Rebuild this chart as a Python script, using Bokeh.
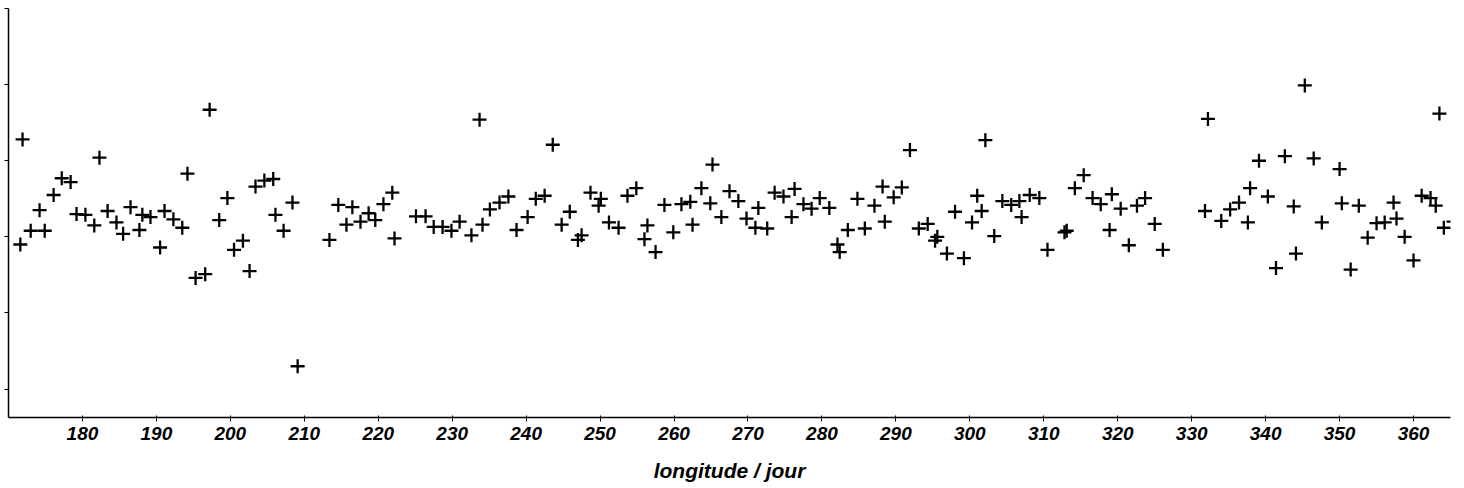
from bokeh.plotting import figure
from bokeh.models import Range1d, FixedTicker
from bokeh.embed import file_html
from bokeh.resources import INLINE

# longitude (day) and value (arbitrary units, y ticks unlabeled)
longitude = [171.6, 171.9, 173.0, 174.2, 174.9, 176.1, 177.2, 178.4, 179.2, 180.4,
             181.6, 182.3, 183.4, 184.6, 185.5, 186.5, 187.7, 188.1, 189.2, 190.5,
             191.1, 192.3, 193.5, 194.2, 195.3, 196.6, 197.2, 198.5, 199.6, 200.5,
             201.7, 202.6, 203.4, 204.6, 205.8, 206.1, 207.2, 208.4, 209.1, 213.4,
             214.6, 215.7, 216.5, 217.6, 218.7, 219.6, 220.7, 221.9, 222.2, 225.1,
             226.4, 227.5, 228.7, 229.9, 231.0, 232.6, 233.7, 234.1, 235.1, 236.4,
             237.6, 238.7, 240.2, 241.3, 242.5, 243.6, 244.8, 245.9, 247.0, 247.5,
             248.7, 249.8, 250.1, 251.2, 252.5, 253.7, 254.9, 256.0, 256.4, 257.5,
             258.7, 259.9, 261.0, 262.2, 262.5, 263.7, 264.9, 265.2, 266.4, 267.5,
             268.7, 269.8, 271.0, 271.4, 272.6, 273.6, 274.8, 275.9, 276.3, 277.5,
             278.6, 279.7, 281.0, 282.1, 282.4, 283.5, 284.8, 285.8, 287.1, 288.2,
             288.5, 289.7, 290.8, 291.9, 293.1, 294.3, 295.3, 295.6, 296.9, 298.0,
             299.2, 300.3, 301.0, 301.6, 302.1, 303.3, 304.4, 305.6, 306.7, 307.0,
             308.1, 309.4, 310.5, 312.8, 313.1, 314.2, 315.4, 316.6, 317.7, 318.9,
             319.2, 320.4, 321.5, 322.6, 323.7, 325.0, 326.1, 331.8, 332.2, 334.0,
             335.2, 336.4, 337.6, 337.9, 339.1, 340.3, 341.4, 342.6, 343.8, 344.1,
             345.3, 346.5, 347.6, 350.0, 350.3, 351.5, 352.6, 353.8, 355.0, 356.1,
             357.3, 357.7, 358.8, 360.0, 361.1, 362.3, 363.0, 363.5, 364.1, 365.4]

value = [1.90, 3.28, 2.08, 2.35, 2.08, 2.55, 2.77, 2.72, 2.30, 2.29,
         2.15, 3.04, 2.34, 2.19, 2.04, 2.39, 2.09, 2.29, 2.26, 1.86,
         2.34, 2.23, 2.12, 2.83, 1.46, 1.51, 3.67, 2.22, 2.51, 1.83,
         1.95, 1.55, 2.66, 2.74, 2.76, 2.29, 2.08, 2.45, 0.30, 1.96,
         2.42, 2.16, 2.39, 2.20, 2.31, 2.22, 2.43, 2.58, 1.98, 2.27,
         2.27, 2.13, 2.13, 2.08, 2.20, 2.02, 3.54, 2.16, 2.36, 2.45,
         2.53, 2.09, 2.26, 2.50, 2.54, 3.21, 2.16, 2.33, 1.96, 2.02,
         2.58, 2.41, 2.50, 2.19, 2.12, 2.54, 2.64, 1.97, 2.15, 1.80,
         2.42, 2.06, 2.43, 2.46, 2.16, 2.64, 2.44, 2.95, 2.26, 2.60,
         2.47, 2.24, 2.12, 2.38, 2.11, 2.58, 2.53, 2.26, 2.63, 2.43,
         2.37, 2.51, 2.38, 1.90, 1.80, 2.09, 2.50, 2.11, 2.41, 2.66,
         2.20, 2.52, 2.65, 3.14, 2.11, 2.17, 1.95, 2.00, 1.78, 2.33,
         1.72, 2.19, 2.54, 2.34, 3.27, 2.01, 2.47, 2.42, 2.47, 2.26,
         2.55, 2.51, 1.83, 2.06, 2.08, 2.64, 2.81, 2.51, 2.43, 2.09,
         2.56, 2.37, 1.89, 2.41, 2.51, 2.17, 1.83, 2.34, 3.55, 2.21,
         2.36, 2.45, 2.19, 2.64, 3.00, 2.53, 1.59, 3.06, 2.40, 1.78,
         3.99, 3.03, 2.19, 2.89, 2.44, 1.57, 2.41, 1.99, 2.18, 2.19,
         2.45, 2.24, 2.00, 1.69, 2.54, 2.51, 2.41, 3.62, 2.12, 2.20]

x_ticks = [180, 190, 200, 210, 220, 230, 240, 250, 260, 270,
           280, 290, 300, 310, 320, 330, 340, 350, 360]
y_ticks = [0, 1, 2, 3, 4, 5]

p = figure(width=1464, height=488, output_backend="svg", toolbar_location=None,
           x_range=Range1d(170, 365), y_range=Range1d(-0.373, 5.0),
           min_border_left=8, min_border_right=14, min_border_top=8,
           min_border_bottom=71)
p.outline_line_color = None
p.grid.visible = False
p.background_fill_color = "white"
p.border_fill_color = "white"

p.scatter(longitude, value, marker="cross", size=14, line_width=2.3,
          line_color="black")

xa = p.xaxis[0]
xa.ticker = FixedTicker(ticks=x_ticks)
xa.minor_tick_line_color = None
xa.major_tick_out = 4
xa.major_tick_in = 2
xa.axis_line_width = 1.5
xa.axis_line_color = "black"
xa.major_tick_line_color = "black"
xa.major_label_text_font = "Liberation Sans"
xa.major_label_text_font_style = "bold italic"
xa.major_label_text_font_size = "19px"
xa.major_label_text_color = "black"
xa.major_label_standoff = 5
xa.axis_label = "longitude / jour"
xa.axis_label_text_font = "Liberation Sans"
xa.axis_label_text_font_style = "bold italic"
xa.axis_label_text_font_size = "21px"
xa.axis_label_text_color = "black"
xa.axis_label_standoff = 16

ya = p.yaxis[0]
ya.ticker = FixedTicker(ticks=y_ticks)
ya.minor_tick_line_color = None
ya.major_tick_out = 4
ya.major_tick_in = 0
ya.axis_line_width = 1.5
ya.axis_line_color = "black"
ya.major_tick_line_color = "black"
ya.major_label_overrides = {t: "" for t in y_ticks}
ya.major_label_standoff = 0

open("out.html", "w").write(file_html(p, INLINE))
